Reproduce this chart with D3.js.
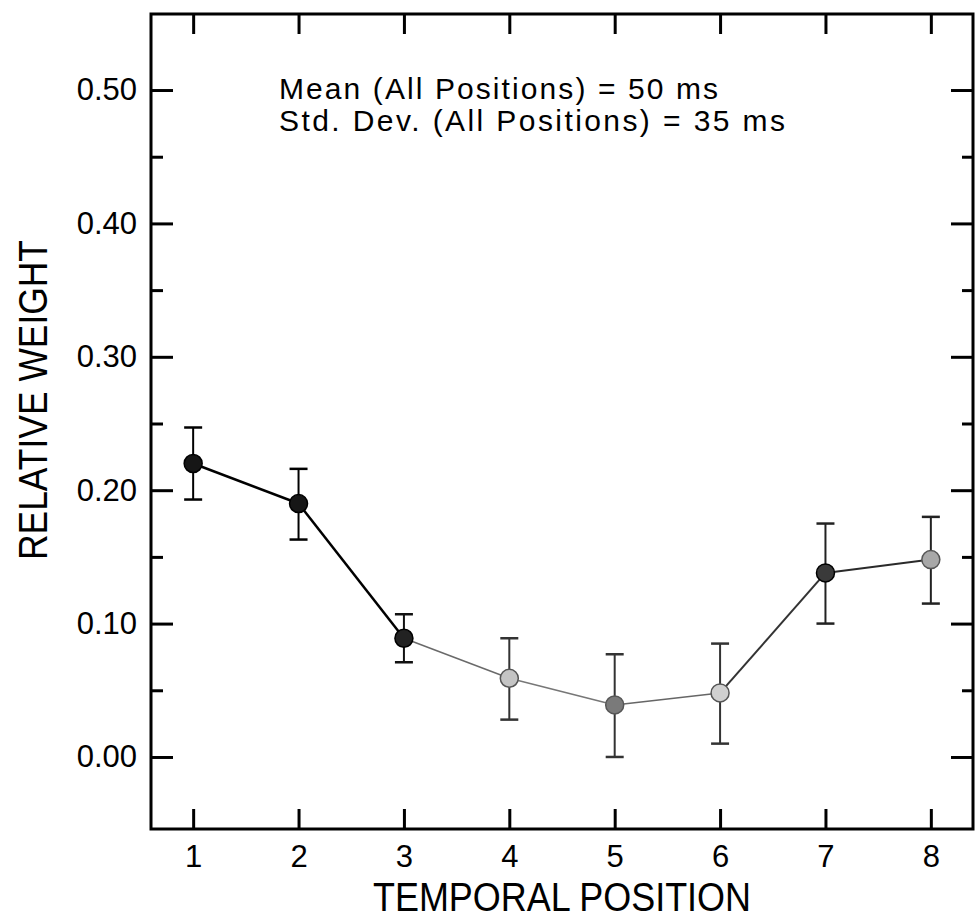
<!DOCTYPE html>
<html>
<head>
<meta charset="utf-8">
<script src="https://cdn.jsdelivr.net/npm/d3@7"></script>
<style>
  html, body { margin: 0; padding: 0; background: #fff; }
  svg { display: block; }
  text { font-family: "Liberation Sans", Arial, sans-serif; fill: #000; }
</style>
</head>
<body>
<svg id="chart" width="979" height="919"></svg>
<script>
// ---- data ----
const positions = [1, 2, 3, 4, 5, 6, 7, 8];
const weights   = [0.220, 0.190, 0.089, 0.059, 0.039, 0.048, 0.138, 0.148];
const errUpper  = [0.247, 0.216, 0.107, 0.089, 0.077, 0.085, 0.175, 0.180];
const errLower  = [0.193, 0.163, 0.071, 0.028, 0.000, 0.010, 0.100, 0.115];
const yMajorTicks = [0.00, 0.10, 0.20, 0.30, 0.40, 0.50];
const yMinorTicks = [0.05, 0.15, 0.25, 0.35, 0.45];
const xTickLabels = ["1", "2", "3", "4", "5", "6", "7", "8"];
const annotation = ["Mean (All Positions) = 50 ms", "Std. Dev. (All Positions) = 35 ms"];
const xTitle = "TEMPORAL POSITION";
const yTitle = "RELATIVE WEIGHT";

// ---- styles (scan shading of the original) ----
const markerFill  = ["#161616", "#161616", "#222", "#c4c4c4", "#7a7a7a", "#d0d0d0", "#3a3a3a", "#a8a8a8"];
const segColor    = ["#000", "#000", "#6a6a6a", "#777", "#666", "#333", "#2a2a2a"];
const segWidth    = [2.5, 2.5, 1.5, 1.5, 1.5, 2, 2];
const barColor    = ["#000", "#000", "#111", "#333", "#333", "#333", "#222", "#222"];
const annLength   = [439, 506];

const svg = d3.select("#chart");
const L = 151, R = 973, T = 14, B = 829;

const x = d3.scaleLinear().domain([0.6, 8.4]).range([L, R]);
const y = d3.scaleLinear().domain([-0.054, 0.557]).range([B, T]);

const fmt = d3.format(".2f");

// axes
function styleAxis(g) {
  g.select(".domain").remove();
  g.selectAll(".tick line").attr("stroke", "#000").attr("stroke-width", 3);
  g.selectAll("text").style("font-family", '"Liberation Sans", Arial, sans-serif')
    .style("font-size", "31px").attr("fill", "#000");
}

svg.append("g").attr("transform", `translate(${L},0)`)
  .call(d3.axisLeft(y).tickValues(yMajorTicks).tickFormat(fmt).tickSize(-22).tickPadding(14))
  .call(styleAxis);
svg.append("g").attr("transform", `translate(${L},0)`)
  .call(d3.axisLeft(y).tickValues(yMinorTicks).tickFormat("").tickSize(-12))
  .call(styleAxis);
svg.append("g").attr("transform", `translate(${R},0)`)
  .call(d3.axisRight(y).tickValues(yMajorTicks).tickFormat("").tickSize(-22))
  .call(styleAxis);
svg.append("g").attr("transform", `translate(${R},0)`)
  .call(d3.axisRight(y).tickValues(yMinorTicks).tickFormat("").tickSize(-11))
  .call(styleAxis);
svg.append("g").attr("transform", `translate(0,${B})`)
  .call(d3.axisBottom(x).tickValues(positions).tickFormat((d, i) => xTickLabels[i]).tickSize(-20).tickPadding(16))
  .call(styleAxis);
svg.append("g").attr("transform", `translate(0,${T})`)
  .call(d3.axisTop(x).tickValues(positions).tickFormat("").tickSize(-20))
  .call(styleAxis);

// frame
svg.append("rect").attr("x", L).attr("y", T).attr("width", R - L).attr("height", B - T)
  .attr("fill", "none").attr("stroke", "#000").attr("stroke-width", 3);

// error bars
const cap = 9;
const eb = svg.append("g");
positions.forEach((p, i) => {
  const cx = x(p);
  const c = barColor[i];
  eb.append("line").attr("x1", cx).attr("x2", cx).attr("y1", y(errUpper[i])).attr("y2", y(errLower[i]))
    .attr("stroke", c).attr("stroke-width", 2);
  eb.append("line").attr("x1", cx - cap).attr("x2", cx + cap).attr("y1", y(errUpper[i])).attr("y2", y(errUpper[i]))
    .attr("stroke", c).attr("stroke-width", 2.5);
  eb.append("line").attr("x1", cx - cap).attr("x2", cx + cap).attr("y1", y(errLower[i])).attr("y2", y(errLower[i]))
    .attr("stroke", c).attr("stroke-width", 2.5);
});

// connecting line segments
const lg = svg.append("g");
for (let i = 0; i < positions.length - 1; i++) {
  lg.append("line")
    .attr("x1", x(positions[i])).attr("y1", y(weights[i]))
    .attr("x2", x(positions[i + 1])).attr("y2", y(weights[i + 1]))
    .attr("stroke", segColor[i]).attr("stroke-width", segWidth[i]);
}

// markers
svg.append("g").selectAll("circle").data(positions).join("circle")
  .attr("cx", d => x(d)).attr("cy", (d, i) => y(weights[i])).attr("r", 9)
  .attr("fill", (d, i) => markerFill[i])
  .attr("stroke", (d, i) => i < 3 || i === 6 ? "#000" : "#555").attr("stroke-width", 1.5);

// annotation
const ann = svg.append("g");
annotation.forEach((t, i) => {
  ann.append("text").attr("x", 279).attr("y", 99 + i * 32)
    .style("font-size", "30px")
    .attr("textLength", annLength[i]).attr("lengthAdjust", "spacing")
    .text(t);
});

// axis titles
svg.append("text").attr("x", (L + R) / 2).attr("y", 911).attr("text-anchor", "middle")
  .style("font-size", "40px").attr("textLength", 378).attr("lengthAdjust", "spacingAndGlyphs")
  .text(xTitle);
svg.append("text").attr("transform", `translate(47, ${400}) rotate(-90)`).attr("text-anchor", "middle")
  .style("font-size", "40px").attr("textLength", 320).attr("lengthAdjust", "spacingAndGlyphs")
  .text(yTitle);
</script>
</body>
</html>
